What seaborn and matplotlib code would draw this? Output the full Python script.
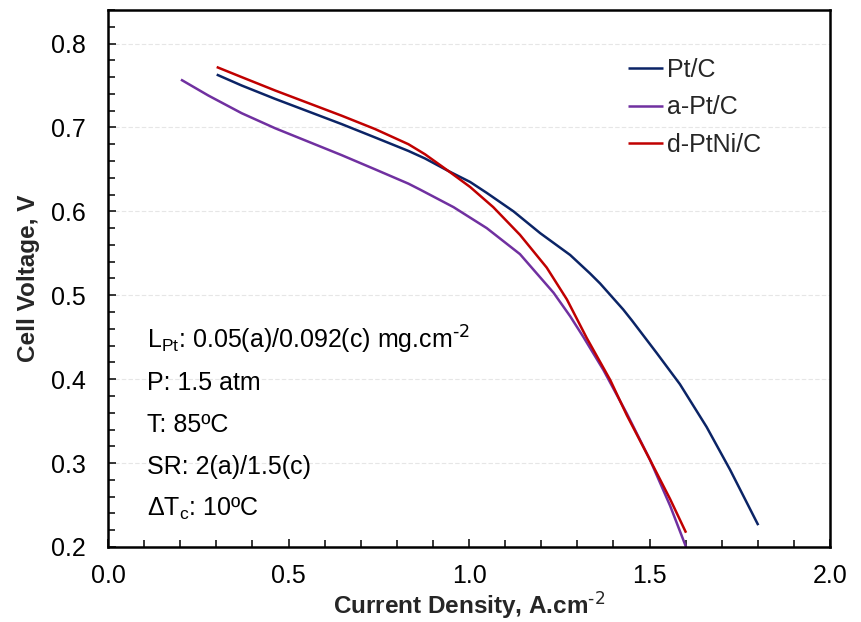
import numpy as np
import pandas as pd
import seaborn as sns
import matplotlib
matplotlib.use("Agg")
import matplotlib.pyplot as plt
from matplotlib.ticker import MultipleLocator

# ---- data ----
pt_x = [0.301, 0.370, 0.463, 0.555, 0.647, 0.740, 0.832, 0.878, 0.943, 1.003, 1.049,
        1.123, 1.197, 1.280, 1.335, 1.363, 1.427, 1.451, 1.520, 1.584, 1.658, 1.723, 1.801]
pt_y = [0.763, 0.750, 0.734, 0.719, 0.704, 0.688, 0.672, 0.663, 0.648, 0.635, 0.622,
        0.600, 0.574, 0.548, 0.526, 0.514, 0.483, 0.470, 0.431, 0.394, 0.343, 0.292, 0.226]

apt_x = [0.202, 0.278, 0.370, 0.463, 0.555, 0.647, 0.740, 0.832, 0.864, 0.957, 1.049,
         1.141, 1.234, 1.280, 1.317, 1.372, 1.437, 1.501, 1.557, 1.601]
apt_y = [0.757, 0.738, 0.717, 0.699, 0.683, 0.667, 0.650, 0.633, 0.626, 0.605, 0.580,
         0.549, 0.503, 0.475, 0.450, 0.411, 0.359, 0.304, 0.249, 0.200]

dptni_x = [0.301, 0.370, 0.463, 0.555, 0.647, 0.740, 0.832, 0.878, 0.943, 1.003, 1.067,
           1.141, 1.215, 1.271, 1.326, 1.391, 1.437, 1.501, 1.557, 1.601]
dptni_y = [0.772, 0.760, 0.744, 0.729, 0.714, 0.698, 0.680, 0.668, 0.648, 0.629, 0.605,
           0.572, 0.533, 0.495, 0.449, 0.399, 0.357, 0.304, 0.257, 0.217]

series_names = ["Pt/C", "a-Pt/C", "d-PtNi/C"]
series_colors = ["#0B2466", "#7030A0", "#C00000"]

annot_lines = [
    "L$_{Pt}$: 0.05(a)/0.092(c) mg.cm$^{\\text{-2}}$",
    "P: 1.5 atm",
    "T: 85ºC",
    "SR: 2(a)/1.5(c)",
    "ΔT$_{c}$: 10ºC",
]
x_label = "Current Density, A.cm$^{\\text{-2}}$"
y_label = "Cell Voltage, V"

df = pd.concat([
    pd.DataFrame({"x": pt_x, "y": pt_y, "s": series_names[0]}),
    pd.DataFrame({"x": apt_x, "y": apt_y, "s": series_names[1]}),
    pd.DataFrame({"x": dptni_x, "y": dptni_y, "s": series_names[2]}),
], ignore_index=True)

sns.set_theme(style="white")
plt.rcParams["font.family"] = ["Liberation Sans", "DejaVu Sans"]
plt.rcParams["mathtext.default"] = "regular"

fig = plt.figure(figsize=(8.62, 6.22), dpi=100)
ax = fig.add_axes([0.1253, 0.1206, 0.8377, 0.8634])

sns.lineplot(data=df, x="x", y="y", hue="s", hue_order=series_names,
             palette=series_colors, sort=False, estimator=None,
             linewidth=1.8, ax=ax)
for ln in ax.get_lines():
    ln.set_solid_joinstyle("round")
    ln.set_solid_capstyle("butt")

ax.set_xlim(0, 2.0)
ax.set_ylim(0.2, 0.84)
ax.xaxis.set_minor_locator(MultipleLocator(0.1))
ax.yaxis.set_minor_locator(MultipleLocator(0.02))
ax.set_yticks([0.2, 0.3, 0.4, 0.5, 0.6, 0.7, 0.8])
ax.set_xticks([0.0, 0.5, 1.0, 1.5, 2.0])
ax.set_xticklabels([f"{v:.1f}" for v in ax.get_xticks()])
ax.set_yticklabels([f"{v:.1f}" for v in ax.get_yticks()])

ax.tick_params(axis="both", which="both", direction="in", colors="black",
               labelsize=18, width=1.1, bottom=True, left=True, top=False, right=False)
ax.tick_params(axis="both", which="major", length=6)
ax.tick_params(axis="both", which="minor", length=5)
ax.tick_params(axis="y", which="major", pad=16)
ax.tick_params(axis="x", which="major", pad=12)

for sp in ax.spines.values():
    sp.set_color("black")
    sp.set_linewidth(1.8)

for yv in [0.3, 0.4, 0.5, 0.6, 0.7, 0.8]:
    ax.axhline(yv, color="#e6e6e6", linewidth=0.8, linestyle=(0, (4, 2)), zorder=0)

ax.set_xlabel(x_label, fontsize=17.5, fontweight="bold")
ax.xaxis.set_label_coords(0.5, -0.080)
ax.set_ylabel(y_label, fontsize=17.5, fontweight="bold", labelpad=8)

leg = ax.legend(loc="upper left", bbox_to_anchor=(0.706, 0.93), frameon=False,
                fontsize=18, handlelength=1.4, handletextpad=0.15,
                labelspacing=0.55, borderaxespad=0.0)
for line in leg.get_lines():
    line.set_linewidth(1.8)

ypos = [0.385, 0.305, 0.227, 0.149, 0.071]
for t, yy in zip(annot_lines, ypos):
    ax.text(0.054, yy, t, transform=ax.transAxes, fontsize=18, va="center", ha="left",
            color="black")

fig.savefig("out.png", dpi=100)
